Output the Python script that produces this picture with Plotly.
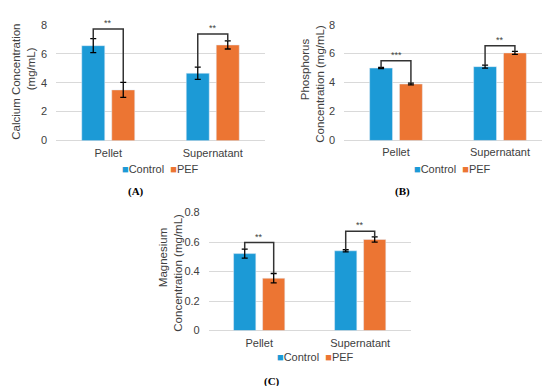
import plotly.graph_objects as go

categories = ["Pellet", "Supernatant"]
series_names = ["Control", "PEF"]

# Panel A: Calcium (mg/mL)
ca_control = [6.55, 4.65]
ca_control_err = [0.48, 0.42]
ca_pef = [3.5, 6.6]
ca_pef_err = [0.52, 0.28]
ca_bracket = [7.7, 7.35]
ca_sig = ["**", "**"]

# Panel B: Phosphorus (mg/mL)
p_control = [5.0, 5.1]
p_control_err = [0.04, 0.1]
p_pef = [3.9, 6.05]
p_pef_err = [0.06, 0.1]
p_bracket = [5.5, 6.55]
p_sig = ["***", "**"]

# Panel C: Magnesium (mg/mL)
mg_control = [0.522, 0.541]
mg_control_err = [0.03, 0.007]
mg_pef = [0.355, 0.618]
mg_pef_err = [0.032, 0.018]
mg_bracket = [0.597, 0.673]
mg_sig = ["**", "**"]

BLUE = "#1C9AD6"
ORANGE = "#EC7533"
TXT = "#404040"
GRID = "#D9D9D9"
W, H = 550, 386
BARGAP = 0.426
GROUPGAP = 0.233

fig = go.Figure()

panels = [
    dict(ax="", c=ca_control, ce=ca_control_err, p=ca_pef, pe=ca_pef_err, br=ca_bracket, sig=ca_sig,
         xd=[48, 257], yd=[11, 130.7], rng=[0, 8], dt=2,
         titles=[("Calcium Concentration", 8, 70), ("(mg/mL)", 23, 57)],
         leg=(152, 160), lab=("(A)", 128, 183)),
    dict(ax="2", c=p_control, ce=p_control_err, p=p_pef, pe=p_pef_err, br=p_bracket, sig=p_sig,
         xd=[336, 544], yd=[11, 130.5], rng=[0, 8], dt=2,
         titles=[("Phosphorus", 297, 57), ("Concentration (mg/mL)", 312, 72)],
         leg=(444, 160), lab=("(B)", 394, 183)),
    dict(ax="3", c=mg_control, ce=mg_control_err, p=mg_pef, pe=mg_pef_err, br=mg_bracket, sig=mg_sig,
         xd=[200.7, 402.7], yd=[205, 326.7], rng=[0, 0.8], dt=0.2,
         titles=[("Magnesium", 155, 252), ("Concentration (mg/mL)", 170, 267)],
         leg=(307, 354), lab=("(C)", 264, 379)),
]

xs = list(range(len(categories)))
half = (1 - BARGAP) / 4  # offset of each bar centre from category centre

annotations = []
for pn in panels:
    xa = "x" + pn["ax"]
    ya = "y" + pn["ax"]
    fig.add_trace(go.Bar(x=xs, y=pn["c"], name=series_names[0], marker_color=BLUE,
                         error_y=dict(type="data", array=pn["ce"], color="black", thickness=1.3, width=3),
                         xaxis=xa, yaxis=ya, showlegend=False))
    fig.add_trace(go.Bar(x=xs, y=pn["p"], name=series_names[1], marker_color=ORANGE,
                         error_y=dict(type="data", array=pn["pe"], color="black", thickness=1.3, width=3),
                         xaxis=xa, yaxis=ya, showlegend=False))
    for i in xs:
        top_c = pn["c"][i] + pn["ce"][i]
        top_p = pn["p"][i] + pn["pe"][i]
        fig.add_trace(go.Scatter(x=[i - half, i - half, i + half, i + half],
                                 y=[top_c, pn["br"][i], pn["br"][i], top_p],
                                 mode="lines", line=dict(color="#333333", width=1.5),
                                 xaxis=xa, yaxis=ya, showlegend=False, hoverinfo="skip"))
        annotations.append(dict(x=i, y=pn["br"][i], xref=xa, yref=ya, text=pn["sig"][i],
                                showarrow=False, yanchor="bottom", yshift=-1,
                                font=dict(size=9, color=TXT, family="Liberation Sans, Arial")))
    # axis titles
    for t, tx, ty in pn["titles"]:
        annotations.append(dict(x=tx / W, y=1 - ty / H, xref="paper", yref="paper", text=t,
                                textangle=-90, showarrow=False, xanchor="center", yanchor="middle",
                                font=dict(size=11.5, color=TXT, family="Liberation Sans, Arial")))
    # legend
    lx, ly = pn["leg"]
    leg_text = (f"<span style='color:{BLUE}'>■</span>{series_names[0]}\u00a0\u00a0"
                f"<span style='color:{ORANGE}'>■</span>{series_names[1]}")
    annotations.append(dict(x=lx / W, y=1 - ly / H, xref="paper", yref="paper", text=leg_text,
                            showarrow=False, xanchor="center", yanchor="middle",
                            font=dict(size=11, color=TXT, family="Liberation Sans, Arial")))
    # panel label
    lt, lbx, lby = pn["lab"]
    annotations.append(dict(x=lbx / W, y=1 - lby / H, xref="paper", yref="paper", text=f"<b>{lt}</b>",
                            showarrow=False, xanchor="center", yanchor="middle",
                            font=dict(size=11, color="black", family="Liberation Serif, Times New Roman")))

    x0, x1 = pn["xd"]
    y0, y1 = pn["yd"]
    fig.layout["xaxis" + pn["ax"]] = dict(
        domain=[x0 / W, x1 / W], anchor=ya, range=[-0.5, 1.5],
        tickmode="array", tickvals=xs, ticktext=categories,
        showgrid=False, zeroline=False, showline=False, ticks="",
        ticklabelstandoff=4,
        tickfont=dict(size=11, color=TXT, family="Liberation Sans, Arial"), fixedrange=True)
    fig.layout["yaxis" + pn["ax"]] = dict(
        domain=[1 - y1 / H, 1 - y0 / H], anchor=xa, range=pn["rng"], dtick=pn["dt"],
        showgrid=True, gridcolor=GRID, gridwidth=1, zeroline=True, zerolinecolor=GRID,
        zerolinewidth=1, showline=False, ticks="", ticklabelstandoff=8,
        tickfont=dict(size=11, color=TXT, family="Liberation Sans, Arial"), fixedrange=True)

fig.update_layout(
    width=W, height=H, margin=dict(l=0, r=0, t=0, b=0),
    paper_bgcolor="white", plot_bgcolor="white",
    barmode="group", bargap=BARGAP, bargroupgap=GROUPGAP,
    annotations=annotations, showlegend=False,
)

fig.write_html("out.html")
